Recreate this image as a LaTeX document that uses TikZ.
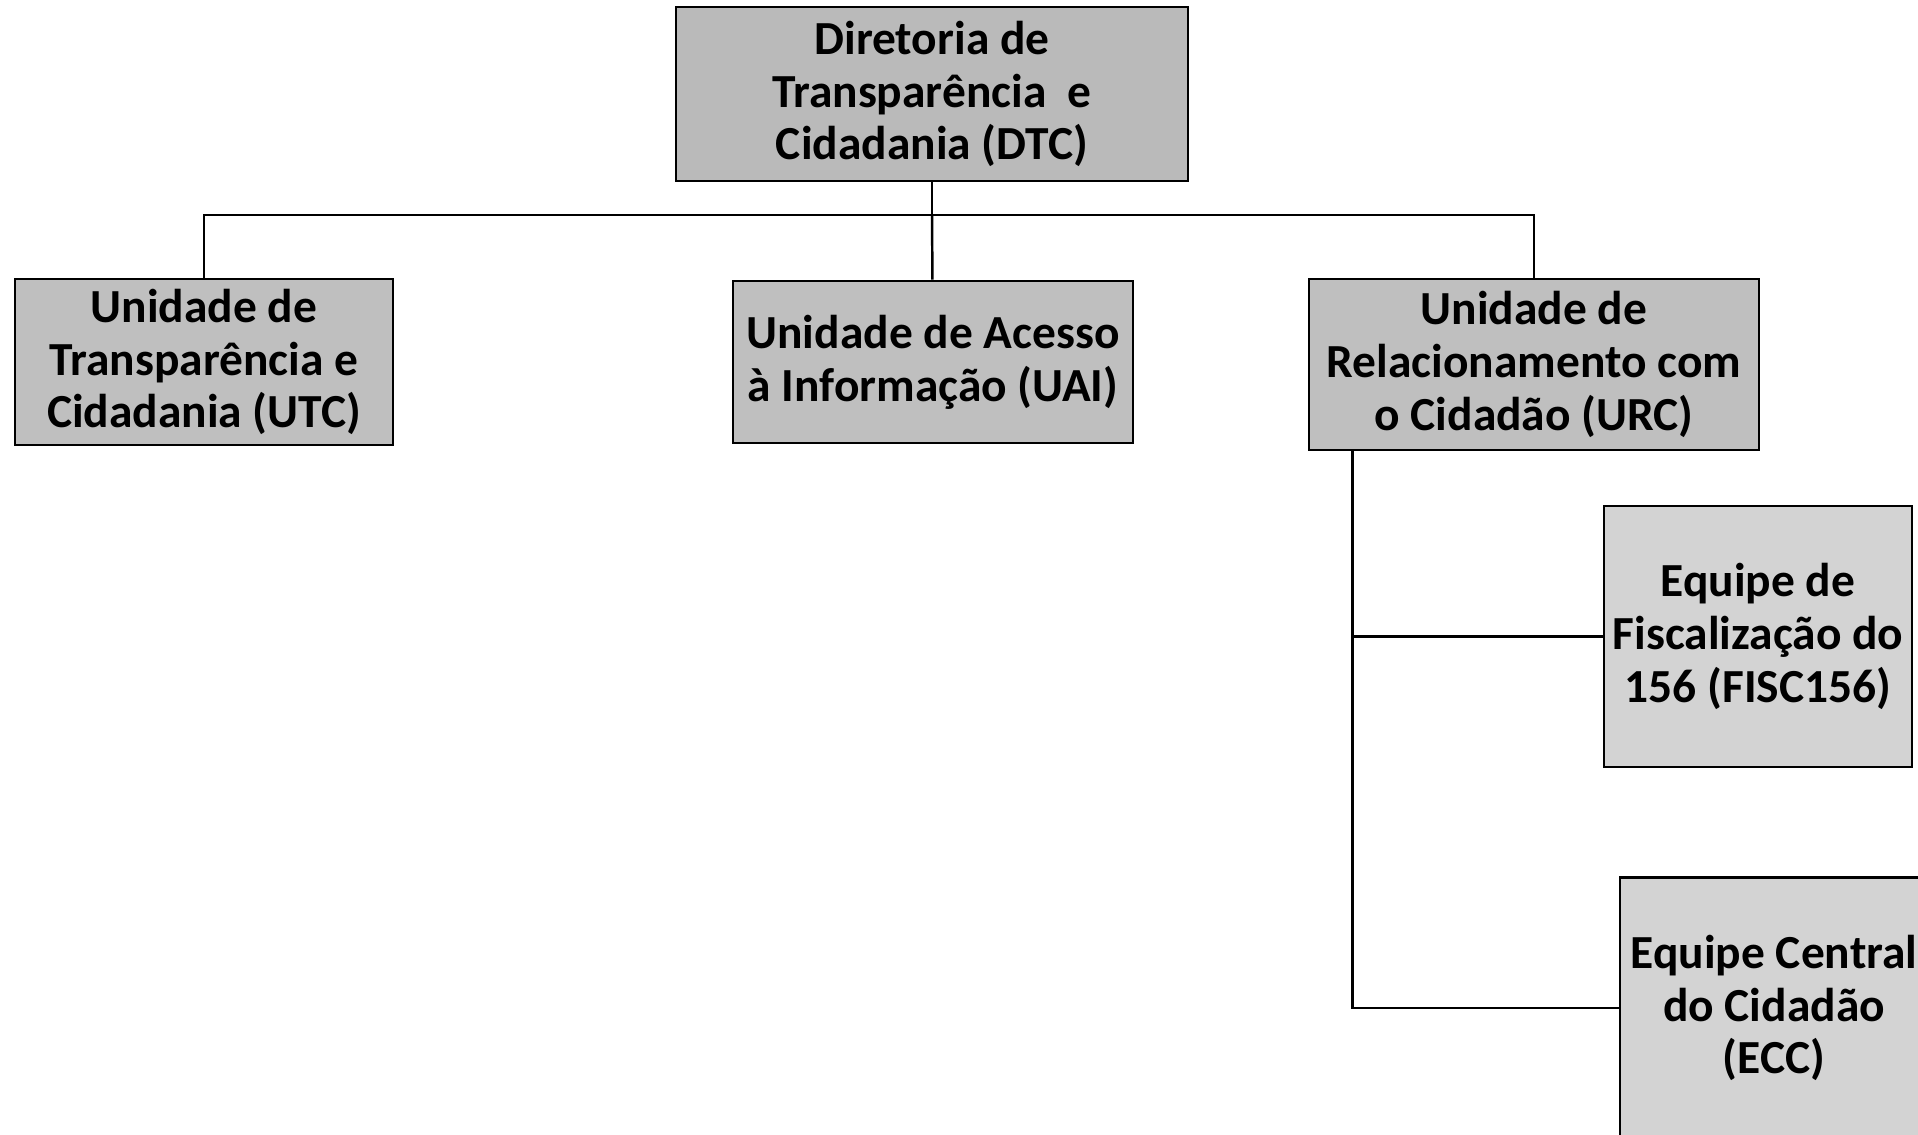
\documentclass[tikz,border=0pt]{standalone}
\usepackage{fontspec}
\setmainfont{Carlito}
\definecolor{headgray}{RGB}{186,186,186}
\definecolor{unitgray}{RGB}{191,191,191}
\definecolor{teamgray}{RGB}{211,211,211}
\tikzset{
  orgbox/.style={draw=black, line width=0.8pt, align=center, inner sep=0pt,
    font=\fontsize{13.5}{15}\selectfont\bfseries},
  headbox/.style={orgbox, fill=headgray},
  unitbox/.style={orgbox, fill=unitgray},
  teambox/.style={orgbox, fill=teamgray, minimum width=3.08cm, minimum height=2.61cm},
  link/.style={line width=0.7pt}
}
\begin{document}
\begin{tikzpicture}
		\useasboundingbox (0,0) rectangle (19.18,-11.34);
		\node[headbox, minimum width=5.12cm, minimum height=1.74cm] (dtc) at (9.32,-0.94) {Diretoria de\\Transparência~ e\\Cidadania (DTC)};
		\node[unitbox, minimum width=3.78cm, minimum height=1.66cm] (utc) at (2.04,-3.62) {Unidade de\\Transparência e\\Cidadania (UTC)};
		\node[unitbox, minimum width=4.00cm, minimum height=1.62cm] (uai) at (9.33,-3.62) {Unidade de Acesso\\à Informação (UAI)};
		\node[unitbox, minimum width=4.50cm, minimum height=1.71cm] (urc) at (15.34,-3.645) {Unidade de\\Relacionamento com\\o Cidadão (URC)};
		\node[teambox] (fisc) at (17.58,-6.365) {Equipe de\\Fiscalização do\\156 (FISC156)};
		\node[teambox] (ecc) at (17.74,-10.08) {Equipe Central\\do Cidadão\\(ECC)};
		\coordinate (bus) at (9.32,-2.15);
		\coordinate (urcleg) at ([xshift=0.45cm]urc.south west);
		\draw[link] (dtc) -- (bus);
		\draw[link] (bus) -| (utc);
		\draw[link] (bus) -- (uai);
		\draw[link] (bus) -| (urc);
		\draw[link] (urcleg) |- (fisc);
		\draw[link] (urcleg) |- (ecc);
	\end{tikzpicture}
\end{document}
